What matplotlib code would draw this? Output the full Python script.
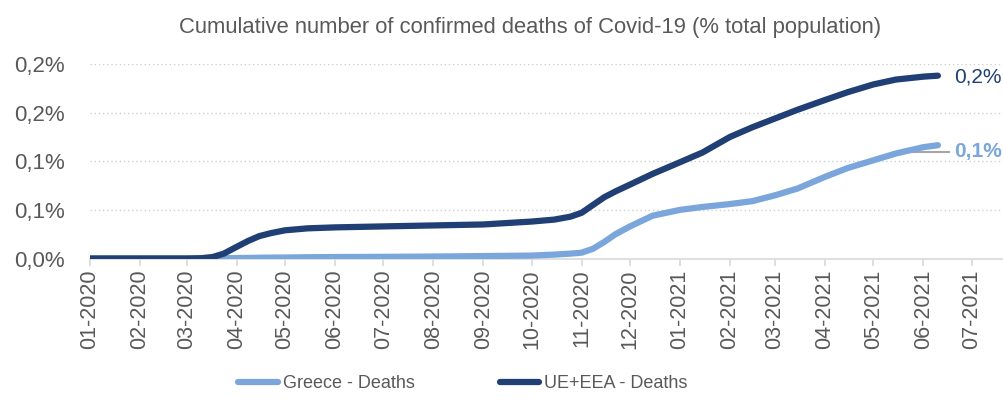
import matplotlib
matplotlib.use("Agg")
import matplotlib.pyplot as plt
import matplotlib.dates as mdates
import pandas as pd

plt.rcParams['font.family'] = ['Liberation Sans', 'DejaVu Sans']

# data (% of total population)
dates = pd.to_datetime([
    "2020-01-01", "2020-02-01", "2020-03-01", "2020-03-10", "2020-03-17",
    "2020-03-24", "2020-04-01", "2020-04-08", "2020-04-15", "2020-04-22",
    "2020-05-01", "2020-05-15", "2020-06-01", "2020-07-01", "2020-08-01",
    "2020-09-01", "2020-10-01", "2020-10-15", "2020-10-25", "2020-11-01",
    "2020-11-08", "2020-11-15", "2020-11-22", "2020-12-01", "2020-12-15",
    "2021-01-01", "2021-01-15", "2021-02-01", "2021-02-15", "2021-03-01",
    "2021-03-15", "2021-04-01", "2021-04-15", "2021-05-01", "2021-05-15",
    "2021-06-01", "2021-06-10"])

eu_deaths = [0, 0, 0, 0.0003, 0.0015,
             0.005, 0.012, 0.018, 0.023, 0.026,
             0.029, 0.031, 0.032, 0.033, 0.034,
             0.035, 0.038, 0.040, 0.043, 0.047,
             0.055, 0.063, 0.069, 0.076, 0.087,
             0.099, 0.109, 0.125, 0.135, 0.144,
             0.153, 0.163, 0.171, 0.179, 0.184,
             0.187, 0.188]

greece_deaths = [0, 0, 0, 0, 0,
                 0.0002, 0.0005, 0.0006, 0.0008, 0.0009,
                 0.001, 0.0013, 0.0015, 0.0017, 0.002,
                 0.0025, 0.003, 0.004, 0.005, 0.006,
                 0.010, 0.017, 0.025, 0.033, 0.044,
                 0.050, 0.053, 0.056, 0.059, 0.065,
                 0.072, 0.084, 0.093, 0.101, 0.108,
                 0.1145, 0.1165]

yticks = [0, 0.05, 0.10, 0.15, 0.20]
ytick_labels = ["0,0%", "0,1%", "0,1%", "0,2%", "0,2%"]

navy = "#203F74"
light = "#7AA6DC"
grey_txt = "#595959"

fig = plt.figure(figsize=(10.04, 4.03), dpi=100)
ax = fig.add_axes([90/1004, (403-258.5)/403, 1 - 90/1004, (258.5-64)/403])

ax.plot(dates, greece_deaths, color=light, lw=4.5, solid_capstyle="round",
        solid_joinstyle="round", label="Greece - Deaths", zorder=3)
ax.plot(dates, eu_deaths, color=navy, lw=4.5, solid_capstyle="round",
        solid_joinstyle="round", label="UE+EEA - Deaths", zorder=3)

ax.set_xlim(pd.Timestamp("2020-01-01"), pd.Timestamp("2021-07-21"))
ax.set_ylim(0, 0.2)

ax.set_yticks(yticks)
ax.set_yticklabels(ytick_labels)
ax.grid(axis="y", color="#D0D0D0", linestyle=(0, (1, 2)), lw=1)
ax.set_axisbelow(True)

ax.xaxis.set_major_locator(mdates.MonthLocator())
ax.xaxis.set_major_formatter(mdates.DateFormatter("%m-%Y"))
ax.tick_params(axis="x", rotation=90, labelsize=15.5, colors="#D9D9D9",
               labelcolor=grey_txt, length=5, width=1.2, pad=3)
ax.tick_params(axis="y", labelsize=16, labelcolor=grey_txt, length=0, pad=18)

for s in ["top", "right", "left"]:
    ax.spines[s].set_visible(False)
ax.spines["bottom"].set_color("#D9D9D9")
ax.spines["bottom"].set_linewidth(1.2)

# end labels
ax.text(pd.Timestamp("2021-06-20"), eu_deaths[-1] - 0.0015, "0,2%", color=navy,
        fontsize=15, va="center", ha="left", clip_on=False)
ax.plot([pd.Timestamp("2021-05-18"), pd.Timestamp("2021-06-17")],
        [0.1096, 0.1096], color="#A6A6A6", lw=1.5, zorder=2)
ax.text(pd.Timestamp("2021-06-20"), 0.1096, "0,1%", color=light,
        fontsize=15, fontweight="bold", va="center", ha="left", clip_on=False)

fig.text(530/1004, 1 - 28/403, "Cumulative number of confirmed deaths of Covid-19 (% total population)",
         ha="center", va="center", fontsize=15.8, color=grey_txt)

fig.legend(loc="center", bbox_to_anchor=(463/1004, 1 - 384/403), ncol=2,
           frameon=False, fontsize=13, labelcolor=grey_txt, handlelength=2.2,
           handletextpad=0.28, columnspacing=4.7)

fig.savefig("out.png", dpi=100)
